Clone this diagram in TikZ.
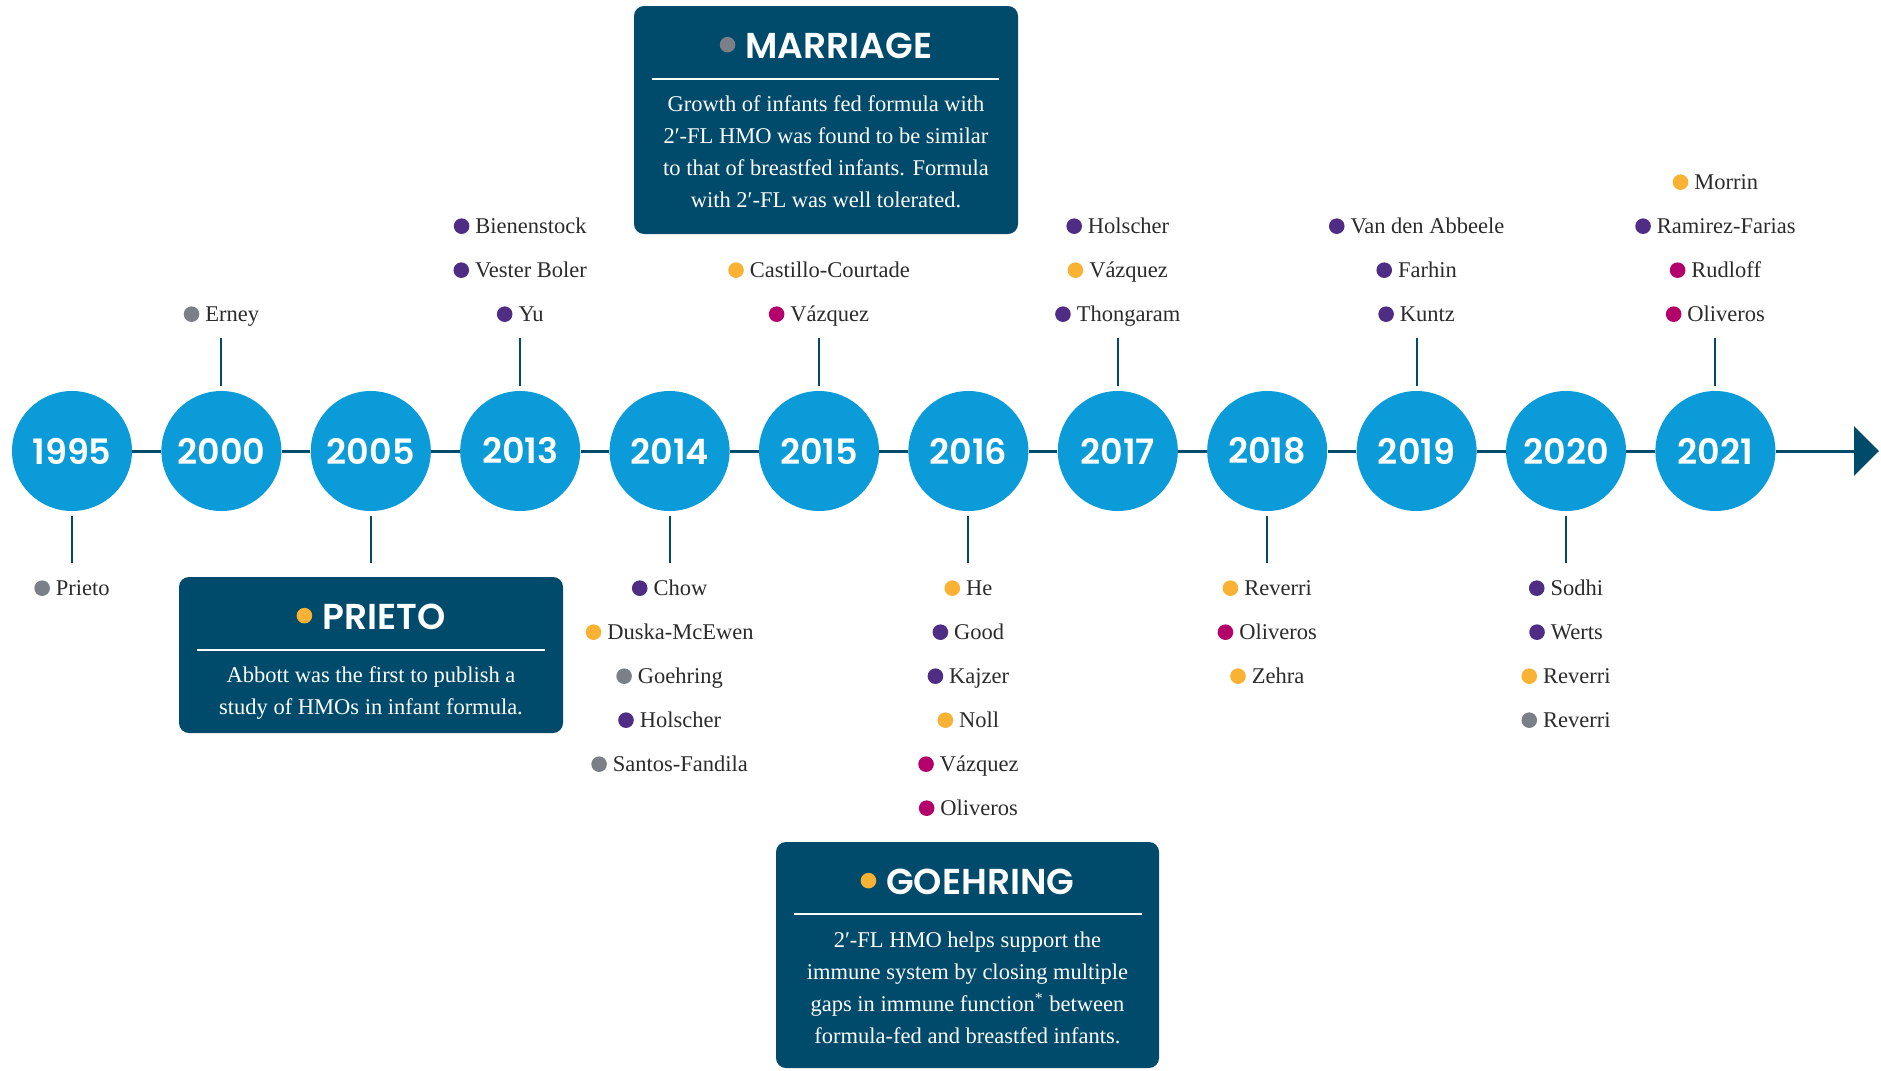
\documentclass[tikz,border=0pt]{standalone}
\usepackage{fontspec}
\setmainfont{Liberation Serif}
\newfontfamily\headfont{Poppins}[BoldFont={Poppins SemiBold}]
\usetikzlibrary{arrows.meta,positioning}
\definecolor{navy}{HTML}{004B6B}
\definecolor{sky}{HTML}{0A9BD8}
\definecolor{dgray}{HTML}{7B7F88}
\definecolor{dpurple}{HTML}{4F2D85}
\definecolor{dmagenta}{HTML}{B3006B}
\definecolor{damber}{HTML}{F9B234}
\definecolor{ink}{HTML}{2B2B2B}
% coloured bullet in front of a name
\newcommand{\dotm}[2][3pt]{\tikz[baseline=-0.7ex]\fill[#2] (0,0) circle (3.9pt);\hspace{#1}}

\begin{document}
\begin{tikzpicture}[x=0.5pt,y=-0.5pt,>=Latex,
 year/.style={circle,fill=sky,minimum size=60pt,inner sep=0pt,text=white,font=\headfont\bfseries\fontsize{17.5}{18}\selectfont},
 axis/.style={draw=navy,line width=1.5pt},
 stem/.style={draw=navy,line width=1pt,shorten <=2.5pt},
 who/.style={anchor=base,yshift=-3.7pt,inner sep=0pt,text=ink,font=\fontsize{11.25}{14}\selectfont},
 card/.style={fill=navy,rounded corners=5pt,inner sep=0pt},
 head/.style={text=white,inner sep=0pt,font=\headfont\bfseries\fontsize{18}{18}\selectfont},
 body/.style={text=white,inner sep=0pt,align=center,anchor=north,font=\fontsize{11.25}{16}\selectfont},
 rule/.style={draw=white,line width=1pt}]
 \useasboundingbox (0,0) rectangle (1881,1071);

 % years on the time line
 \foreach \yr [count=\i from 0] in {1995,2000,2005,2013,2014,2015,2016,2017,2018,2019,2020,2021}
  \node[year] (y\yr) at ({72+149.4*\i},451) {\yr};
 \foreach \a/\b in {1995/2000,2000/2005,2005/2013,2013/2014,2014/2015,2015/2016,2016/2017,2017/2018,2018/2019,2019/2020,2020/2021}
  \draw[axis] (y\a) -- (y\b);
 \coordinate (tip) at (1879,451);
 \draw[axis,-{Triangle[length=12.5pt,width=24.5pt]}] (y2021) -- (tip);

 % stems
 \foreach \yr in {2000,2013,2015,2017,2019,2021}
  \draw[stem] (y\yr) -- ++(0,-113) coordinate (t\yr);
 \foreach \yr in {1995,2005,2014,2016,2018,2020}
  \draw[stem] (y\yr) -- ++(0,112) coordinate (b\yr);

 % names above
 \node[who] (n2000-1) at (221.4,314) {\dotm{dgray}Erney};
 \foreach \c/\n [count=\k] in {dpurple/Bienenstock,dpurple/Vester Boler,dpurple/Yu}
  \node[who] (n2013-\k) at (520.2,{226+44*(\k-1)}) {\dotm{\c}\n};
 \foreach \c/\n [count=\k] in {damber/Castillo-Courtade,dmagenta/Vázquez}
  \node[who] (n2015-\k) at (819,{270+44*(\k-1)}) {\dotm{\c}\n};
 \foreach \c/\n [count=\k] in {dpurple/Holscher,damber/Vázquez,dpurple/Thongaram}
  \node[who] (n2017-\k) at (1117.8,{226+44*(\k-1)}) {\dotm{\c}\n};
 \foreach \c/\n [count=\k] in {dpurple/Van den Abbeele,dpurple/Farhin,dpurple/Kuntz}
  \node[who] (n2019-\k) at (1416.6,{226+44*(\k-1)}) {\dotm{\c}\n};
 \foreach \c/\n [count=\k] in {damber/Morrin,dpurple/Ramirez-Farias,dmagenta/Rudloff,dmagenta/Oliveros}
  \node[who] (n2021-\k) at (1715.4,{182+44*(\k-1)}) {\dotm{\c}\n};

 % names below
 \node[who] (n1995-1) at (72,588) {\dotm{dgray}Prieto};
 \foreach \c/\n [count=\k] in {dpurple/Chow,damber/Duska-McEwen,dgray/Goehring,dpurple/Holscher,dgray/Santos-Fandila}
  \node[who] (n2014-\k) at (669.6,{588+44*(\k-1)}) {\dotm{\c}\n};
 \foreach \c/\n [count=\k] in {damber/He,dpurple/Good,dpurple/Kajzer,damber/Noll,dmagenta/Vázquez,dmagenta/Oliveros}
  \node[who] (n2016-\k) at (968.4,{588+44*(\k-1)}) {\dotm{\c}\n};
 \foreach \c/\n [count=\k] in {damber/Reverri,dmagenta/Oliveros,damber/Zehra}
  \node[who] (n2018-\k) at (1267.2,{588+44*(\k-1)}) {\dotm{\c}\n};
 \foreach \c/\n [count=\k] in {dpurple/Sodhi,dpurple/Werts,damber/Reverri,dgray/Reverri}
  \node[who] (n2020-\k) at (1566,{588+44*(\k-1)}) {\dotm{\c}\n};

 % highlight cards
 \node[card,minimum width=192pt,minimum height=114pt] (mcard) at (826,120) {};
 \node[head] (mhead) at (826,46) {\dotm[5pt]{dgray}MARRIAGE};
 \draw[rule] (652,79) -- (999,79);
 \node[body] (mbody) at (826,95) {Growth of infants fed formula with\\2′-FL HMO was found to be similar\\to that of breastfed infants. Formula\\with 2′-FL was well tolerated.};

 \node[card,minimum width=192pt,minimum height=78pt] (pcard) at (371,655) {};
 \node[head] (phead) at (371,617) {\dotm[5pt]{damber}PRIETO};
 \draw[rule] (197,650) -- (545,650);
 \node[body] (pbody) at (371,666) {Abbott was the first to publish a\\study of HMOs in infant formula.};

 \node[card,minimum width=191.5pt,minimum height=113pt] (gcard) at (967.5,955) {};
 \node[head] (ghead) at (967.5,882) {\dotm[5pt]{damber}GOEHRING};
 \draw[rule] (794,914) -- (1142,914);
 \node[body] (gbody) at (967.5,931) {2′-FL HMO helps support the\\immune system by closing multiple\\gaps in immune function\textsuperscript{*} between\\formula-fed and breastfed infants.};
\end{tikzpicture}
\end{document}
